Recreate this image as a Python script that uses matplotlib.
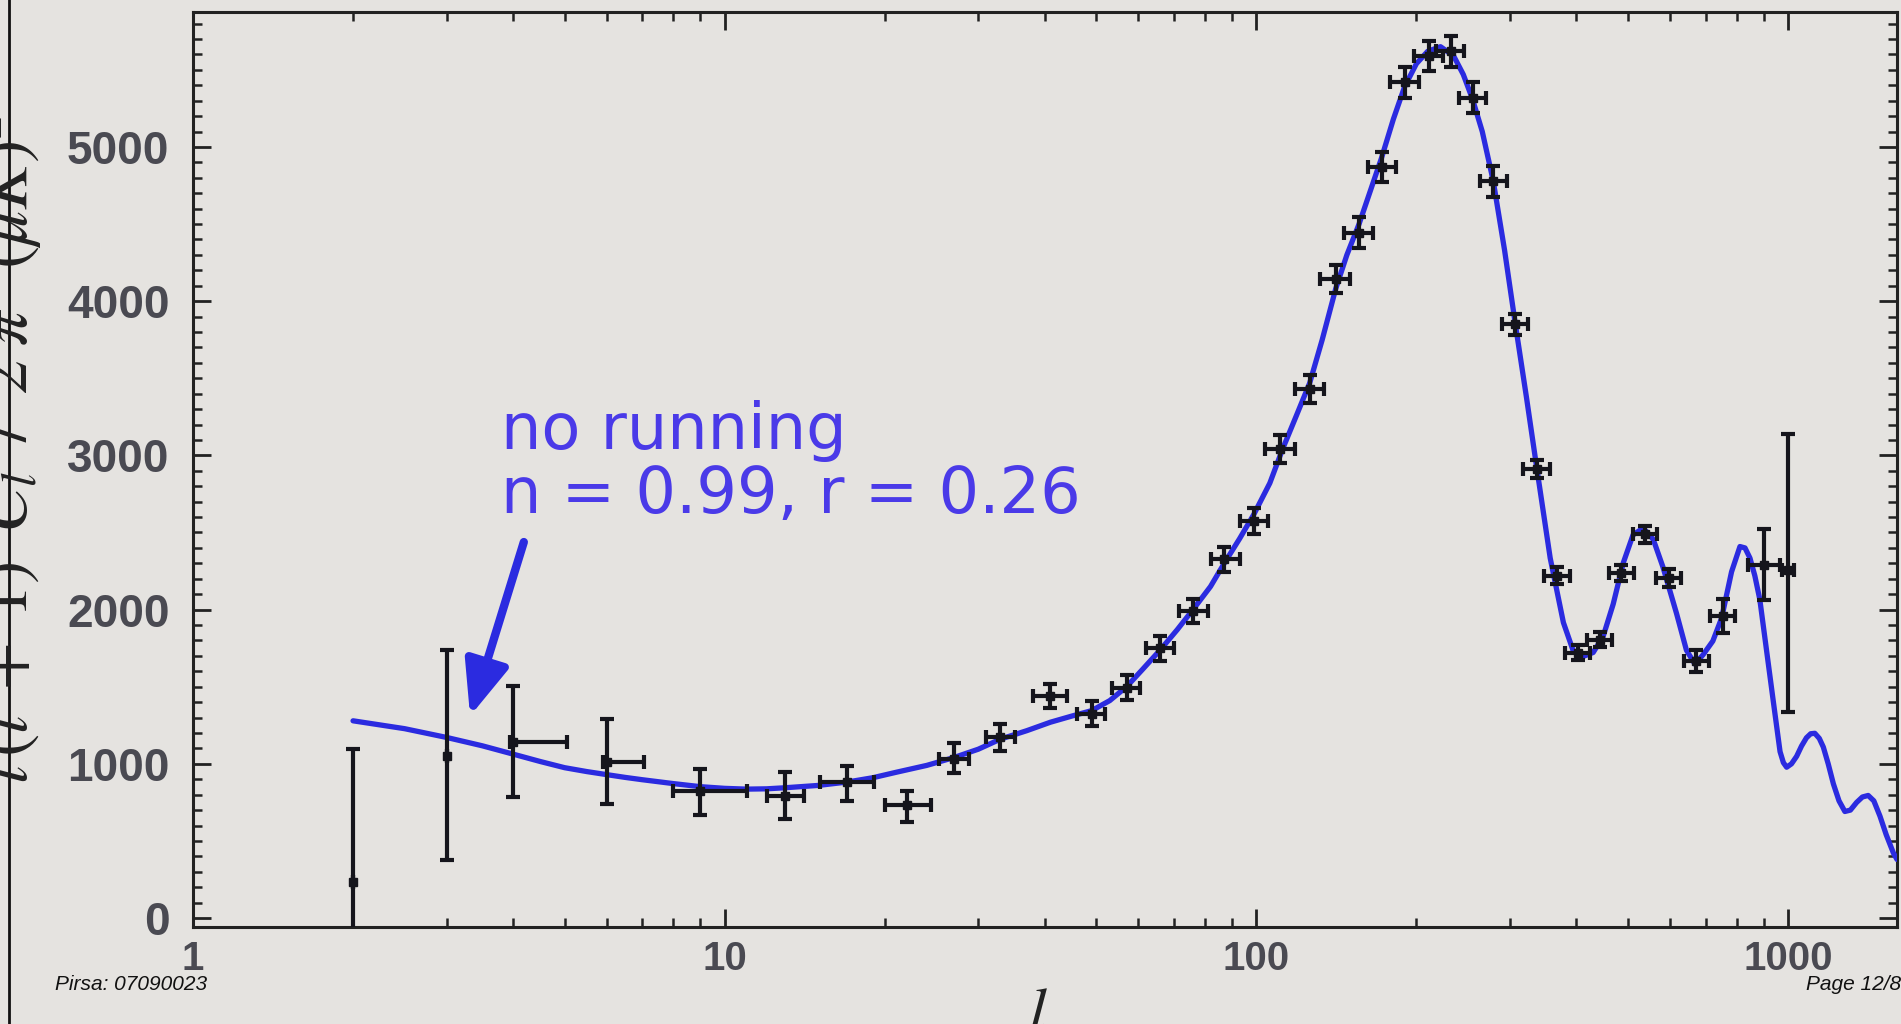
import matplotlib
matplotlib.use('Agg')
import matplotlib.pyplot as plt
from matplotlib.ticker import FixedLocator, MultipleLocator, NullFormatter, FixedFormatter
from matplotlib.lines import Line2D
import numpy as np

ell = [2, 3, 4, 6, 9, 13, 17, 22, 27, 33, 41, 49, 57, 66, 76, 87, 99, 111, 126, 141,
       156, 172, 190, 211, 232, 255, 279, 307, 337, 368, 402, 442, 486, 538, 597, 672,
       754, 900, 1000]
power = [235, 1053, 1139, 1009, 826, 794, 880, 730, 1033, 1171, 1440, 1325, 1494, 1750,
         1990, 2325, 2577, 3040, 3430, 4146, 4445, 4870, 5420, 5590, 5620, 5318, 4777,
         3850, 2912, 2220, 1721, 1805, 2237, 2490, 2205, 1667, 1957, 2290, 2256]
err_lo = [400, 678, 355, 268, 160, 150, 118, 108, 95, 90, 80, 80, 80, 80, 80, 80, 85, 90,
          90, 90, 100, 100, 100, 100, 100, 100, 100, 70, 60, 55, 50, 50, 50, 55, 60, 70,
          110, 227, 922]
err_hi = [860, 688, 366, 280, 140, 150, 108, 97, 105, 90, 80, 80, 80, 80, 80, 80, 85, 90,
          90, 90, 100, 100, 100, 100, 100, 100, 100, 70, 60, 55, 50, 50, 50, 55, 60, 70,
          110, 234, 883]
bin_lo = [2, 3, 3.95, 5.9, 8.0, 12.0, 15.1, 20.0, 25.3, 31, 38, 46, 53.5, 62, 71.5, 82, 93,
          104, 118, 132, 146, 162, 178, 198, 218, 240, 263, 290, 318, 348, 380, 418, 460,
          510, 565, 636, 714, 840, 975]
bin_hi = [2, 3, 5.05, 7.05, 11.0, 14.1, 19.1, 24.4, 28.8, 35.2, 44, 52, 60.5, 70, 81, 93,
          105, 118, 134, 150, 166, 183, 202, 224, 246, 270, 296, 324, 356, 389, 425, 467,
          513, 568, 630, 710, 796, 966, 1025]

# model curve, no running, n = 0.99, r = 0.26
ell_th = [2, 2.5, 3, 3.5, 4, 4.5, 5, 5.5, 6, 6.5, 7, 8, 9, 10, 11, 12, 13, 15, 17, 19, 21,
          24, 27, 30, 33, 37, 41, 45, 49, 53, 57, 61, 66, 71, 76, 82, 87, 93, 99, 106, 112,
          119, 126, 133, 141, 148, 156, 164, 172, 181, 190, 200, 210, 222, 235, 245, 255,
          266, 279, 293, 307, 322, 337, 357, 378, 394, 409, 430, 449, 469, 490, 511, 534,
          558, 582, 617, 644, 668, 692, 722, 750, 783, 812, 830, 848, 866, 885, 911, 938,
          966, 980, 994, 1015, 1038, 1060, 1083, 1103, 1123, 1145, 1165, 1190, 1217, 1247,
          1279, 1310, 1346, 1380, 1415, 1450, 1489, 1530, 1578, 1603]
cl_th = [1279, 1228, 1171, 1117, 1063, 1015, 975, 950, 930, 912, 897, 872, 852, 841, 836,
         838, 845, 860, 882, 910, 945, 990, 1041, 1095, 1160, 1215, 1270, 1310, 1345, 1410,
         1500, 1610, 1740, 1870, 2000, 2150, 2300, 2460, 2620, 2820, 3040, 3260, 3470,
         3750, 4080, 4300, 4500, 4720, 4930, 5180, 5390, 5540, 5620, 5650, 5590, 5470,
         5310, 5100, 4778, 4330, 3850, 3380, 2913, 2334, 1916, 1737, 1692, 1722, 1826,
         2036, 2304, 2484, 2529, 2454, 2274, 1975, 1737, 1647, 1707, 1796, 1945, 2245,
         2409, 2400, 2334, 2220, 2065, 1737, 1407, 1079, 1008, 978, 1000, 1049, 1115, 1169,
         1195, 1198, 1165, 1109, 1000, 870, 760, 691, 700, 750, 785, 795, 760, 661, 540,
         422, 380]

xticks = [1, 10, 100, 1000]
yticks = [0, 1000, 2000, 3000, 4000, 5000]

bg = '#e5e3e0'
blue = '#2b2be0'
txt_blue = '#4a3ae8'
W, H = 1901, 1024

plt.rcParams['mathtext.fontset'] = 'stix'

fig = plt.figure(figsize=(W / 100, H / 100), dpi=100, facecolor=bg)
ax = fig.add_axes([193 / W, 1 - 927 / H, (1897 - 193) / W, (927 - 12) / H])
ax.set_facecolor(bg)
ax.set_xscale('log')
ax.set_xlim(1, 1603)
ax.set_ylim(-58, 5875)

ax.plot(ell_th, cl_th, color=blue, lw=3.8, zorder=3, solid_capstyle='round',
        solid_joinstyle='round')

l = np.array(ell)
xerr = [l - np.array(bin_lo), np.array(bin_hi) - l]
ax.errorbar(ell, power, yerr=[err_lo, err_hi], xerr=xerr, fmt='s', ms=6,
            color='#15151c', ecolor='#15151c', elinewidth=3, capsize=5, capthick=3,
            zorder=4)

# axes styling
for s in ax.spines.values():
    s.set_linewidth(2.2)
    s.set_color('#222222')
ax.xaxis.set_major_locator(FixedLocator(xticks))
ax.xaxis.set_major_formatter(FixedFormatter([str(t) for t in xticks]))
minor = [m * 10 ** d for d in range(0, 4) for m in range(2, 10) if m * 10 ** d < 1603]
ax.xaxis.set_minor_locator(FixedLocator(minor))
ax.xaxis.set_minor_formatter(NullFormatter())
ax.yaxis.set_major_locator(FixedLocator(yticks))
ax.yaxis.set_minor_locator(MultipleLocator(100))
ax.tick_params(which='both', direction='in', top=True, right=True, color='#222222')
ax.tick_params(which='major', length=13, width=2)
ax.tick_params(which='minor', length=6.5, width=1.8)
ax.tick_params(axis='y', which='major', pad=17)
ax.tick_params(axis='x', which='major', pad=9)
for lab in ax.get_yticklabels():
    lab.set_fontsize(33)
    lab.set_fontweight('bold')
    lab.set_color('#4a4a52')
    lab.set_family('Liberation Sans')
for lab in ax.get_xticklabels():
    lab.set_fontsize(29)
    lab.set_fontweight('bold')
    lab.set_color('#4a4a52')
    lab.set_family('Liberation Sans')

# annotation
fig.text(501 / W, 1 - 449 / H, 'no running', color=txt_blue, fontsize=46,
         family='DejaVu Sans', va='baseline', ha='left')
fig.text(501 / W, 1 - 513 / H, 'n = 0.99, r = 0.26', color=txt_blue, fontsize=46,
         family='DejaVu Sans', va='baseline', ha='left')
ax.annotate('', xy=(3.32, 1310), xytext=(4.19, 2438),
            arrowprops=dict(arrowstyle='-|>,head_length=1.1,head_width=0.45',
                            color=blue, lw=6, mutation_scale=30, shrinkA=0, shrinkB=0),
            zorder=5)

# axis labels (partly cut off on the slide)
fig.text(44 / W, 1 - 449 / H,
         r'$l\,(l\;+\;1)\;\;C_l\;\;/\;\;2\;\pi\;\;\;(\mu K)^2$',
         rotation=90, ha='right', va='center', fontsize=50, color='#222222')
fig.text(1038 / W, 1 - 983 / H, r'$l$', ha='center', va='top', fontsize=46,
         color='#222222')

# slide footer
fig.text(55 / W, 1 - 990 / H, 'Pirsa: 07090023', fontsize=15, style='italic',
         family='Liberation Sans', va='baseline', color='#111111')
fig.text(1806 / W, 1 - 990 / H, 'Page 12/87', fontsize=15, style='italic',
         family='Liberation Sans', va='baseline', color='#111111')

# left frame edge of the slide
fig.add_artist(Line2D([9 / W, 9 / W], [0, 1], transform=fig.transFigure,
                      color='#111111', lw=2))

fig.savefig('out.png', dpi=100, facecolor=bg)
